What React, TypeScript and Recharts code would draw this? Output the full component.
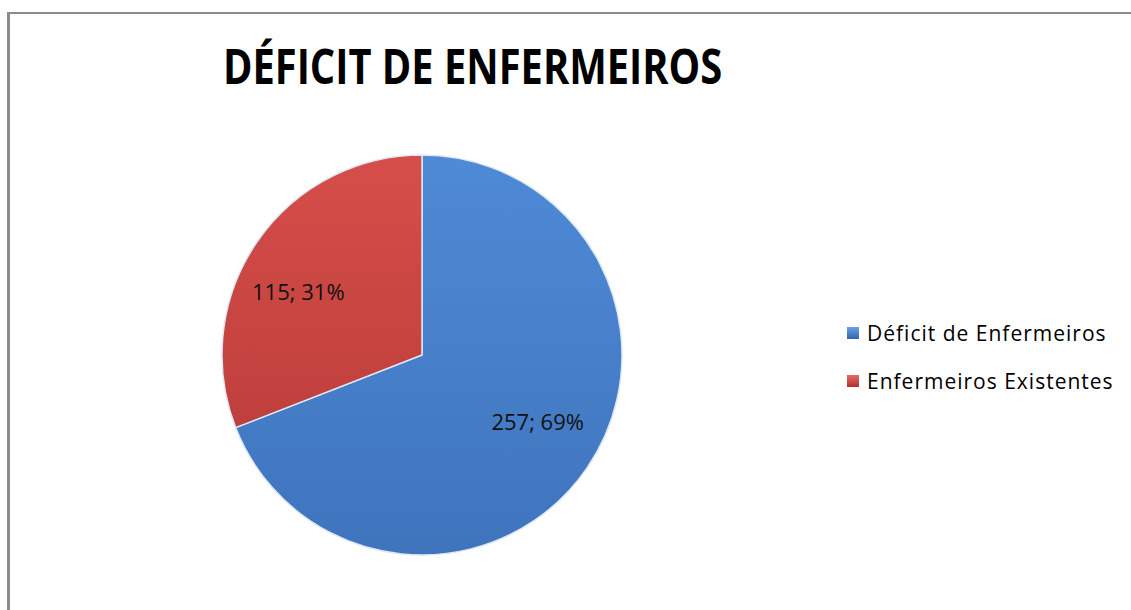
import React from "react";
import { PieChart, Pie, Cell } from "recharts";

const categories = ["Déficit de Enfermeiros", "Enfermeiros Existentes"];
const values = [257, 115];
const percents = [69, 31];
const colors = ["#4a80c9", "#cb4643"];
const legendGradients = [
	"linear-gradient(#6f9fe0, #2f64b0)",
	"linear-gradient(#e66a66, #b5302d)",
];

const data = categories.map((name, i) => ({ name, value: values[i], pct: percents[i] }));

const RADIAN = Math.PI / 180;
const FONT = "'Open Sans', sans-serif";

// Excel "best fit" labels sit a little counter-clockwise of the slice middle
const renderLabel = (props: any) => {
	const { cx, cy, midAngle, outerRadius, index } = props;
	const r = outerRadius * 0.68;
	const a = (midAngle + 6) * RADIAN;
	const x = cx + r * Math.cos(-a);
	const y = cy + r * Math.sin(-a);
	const d = data[index];
	return (
		<text
			x={x - 4}
			y={y + 1}
			fill="#111"
			textAnchor="middle"
			dominantBaseline="central"
			fontSize={22}
			fontFamily={FONT}
		>
			{`${d.value}; ${d.pct}%`}
		</text>
	);
};

export default function App() {
	return (
		<div style={{ position: "absolute", left: 0, top: 0, width: 1131, height: 610, background: "#fff", overflow: "hidden" }}>
			<div style={{ position: "absolute", left: 7, top: 12, width: 1124, height: 2, background: "#8c8c8c" }} />
			<div style={{ position: "absolute", left: 7, top: 12, width: 3, height: 598, background: "#8c8c8c" }} />
			<div
				style={{
					position: "absolute",
					left: 223,
					top: 33,
					fontFamily: FONT,
					fontWeight: 700,
					fontSize: 48,
					lineHeight: "66px",
					color: "#000",
					whiteSpace: "nowrap",
					transform: "scaleX(0.83)",
					transformOrigin: "left center",
				}}
			>
				DÉFICIT DE ENFERMEIROS
			</div>
			<div style={{ position: "absolute", left: 0, top: 0 }}>
				<PieChart width={1131} height={610} margin={{ top: 0, right: 0, bottom: 0, left: 0 }}>
					<defs>
						<linearGradient id="gBlue" x1="0" y1="0" x2="0" y2="1">
							<stop offset="0%" stopColor="#4f8ad6" />
							<stop offset="100%" stopColor="#3f74bd" />
						</linearGradient>
						<linearGradient id="gRed" x1="0" y1="0" x2="0" y2="1">
							<stop offset="0%" stopColor="#d64e4a" />
							<stop offset="100%" stopColor="#bf3f3c" />
						</linearGradient>
					</defs>
					<Pie
						data={data}
						dataKey="value"
						nameKey="name"
						cx={422}
						cy={355}
						outerRadius={200}
						startAngle={90}
						endAngle={-270}
						stroke="#dce8f6"
						strokeWidth={1.5}
						label={renderLabel}
						labelLine={false}
						isAnimationActive={false}
					>
						{data.map((entry, index) => (
							<Cell key={`cell-${index}`} fill={index === 0 ? "url(#gBlue)" : "url(#gRed)"} />
						))}
					</Pie>
				</PieChart>
			</div>
			<div style={{ position: "absolute", left: 847, top: 309 }}>
				{data.map((d, i) => (
					<div key={d.name} style={{ display: "flex", alignItems: "center", height: 48 }}>
						<div style={{ width: 12, height: 12, background: legendGradients[i], marginRight: 8 }} />
						<span style={{ fontFamily: FONT, fontSize: 21, letterSpacing: 1, color: "#000", whiteSpace: "nowrap" }}>
							{d.name}
						</span>
					</div>
				))}
			</div>
		</div>
	);
}
